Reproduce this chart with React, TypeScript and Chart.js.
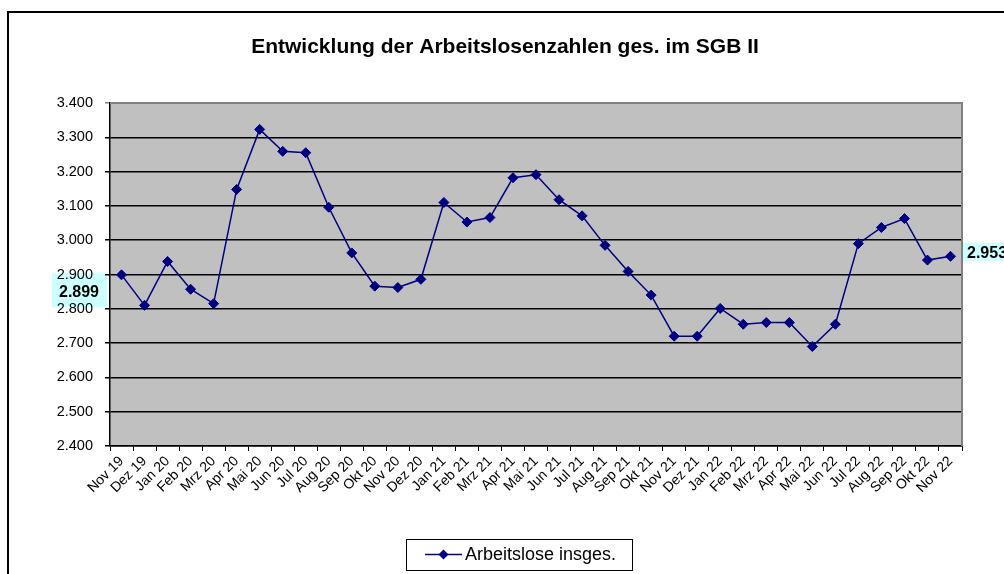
import React, { useEffect, useRef } from "react";
import { Chart, registerables } from "chart.js";

Chart.register(...registerables);

const categories: string[] = [
  "Nov 19", "Dez 19",
  "Jan 20", "Feb 20", "Mrz 20", "Apr 20", "Mai 20", "Jun 20", "Jul 20", "Aug 20", "Sep 20", "Okt 20", "Nov 20", "Dez 20",
  "Jan 21", "Feb 21", "Mrz 21", "Apr 21", "Mai 21", "Jun 21", "Jul 21", "Aug 21", "Sep 21", "Okt 21", "Nov 21", "Dez 21",
  "Jan 22", "Feb 22", "Mrz 22", "Apr 22", "Mai 22", "Jun 22", "Jul 22", "Aug 22", "Sep 22", "Okt 22", "Nov 22",
];

const arbeitslose: number[] = [
  2899, 2810,
  2938, 2857, 2815, 3148, 3323, 3259, 3255, 3096, 2963, 2866, 2862, 2886,
  3110, 3053, 3066, 3182, 3191, 3118, 3071, 2985, 2909, 2840, 2720, 2720,
  2801, 2755, 2760, 2760, 2690, 2755, 2990, 3037, 3063, 2942, 2953,
];

const yMin = 2400;
const yMax = 3400;
const yStep = 100;

const titleText = "Entwicklung der Arbeitslosenzahlen ges. im SGB II";
const seriesName = "Arbeitslose insges.";

const FONT = "'Liberation Sans', Arial, Helvetica, sans-serif";
const NAVY = "#000080";

const fmt = (v: number): string => {
  const s = String(Math.round(v));
  return s.length > 3 ? s.slice(0, -3) + "." + s.slice(-3) : s;
};

const drawDiamond = (ctx: CanvasRenderingContext2D, x: number, y: number, r: number) => {
  ctx.beginPath();
  ctx.moveTo(x, y - r);
  ctx.lineTo(x + r, y);
  ctx.lineTo(x, y + r);
  ctx.lineTo(x - r, y);
  ctx.closePath();
  ctx.fill();
};

const decorPlugin = {
  id: "decor",
  beforeDraw(chart: any) {
    const { ctx, chartArea } = chart;
    ctx.save();
    ctx.fillStyle = "#ffffff";
    ctx.fillRect(0, 0, chart.width, chart.height);
    ctx.fillStyle = "#C0C0C0";
    ctx.fillRect(chartArea.left, chartArea.top, chartArea.right - chartArea.left, chartArea.bottom - chartArea.top);
    // label boxes (behind the tick labels)
    const meta = chart.getDatasetMeta(0);
    const first = meta.data[0];
    const last = meta.data[meta.data.length - 1];
    ctx.fillStyle = "#CCFFFF";
    if (first) ctx.fillRect(52, first.y - 1.5, 55, 34);
    if (last) ctx.fillRect(chartArea.right + 1, last.y - 13.5, 60, 18);
    ctx.restore();
  },
  beforeDatasetsDraw(chart: any) {
    const { ctx, chartArea } = chart;
    ctx.save();
    ctx.strokeStyle = "#808080";
    ctx.lineWidth = 2;
    ctx.beginPath();
    ctx.moveTo(chartArea.left, chartArea.top);
    ctx.lineTo(chartArea.right, chartArea.top);
    ctx.lineTo(chartArea.right, chartArea.bottom);
    ctx.stroke();
    ctx.restore();
  },
  afterDraw(chart: any) {
    const { ctx } = chart;
    ctx.save();
    // outer frame
    ctx.strokeStyle = "#000";
    ctx.lineWidth = 2;
    ctx.strokeRect(8, 12, 1010, 600);

    // title
    ctx.fillStyle = "#000";
    ctx.font = `bold 21px ${FONT}`;
    ctx.textAlign = "center";
    ctx.textBaseline = "middle";
    ctx.fillText(titleText, 505, 47);

    // data labels for first and last points
    const meta = chart.getDatasetMeta(0);
    const first = meta.data[0];
    const last = meta.data[meta.data.length - 1];
    ctx.font = `bold 16px ${FONT}`;
    ctx.fillStyle = "#000";
    if (first) {
      ctx.textAlign = "center";
      ctx.fillText(fmt(arbeitslose[0]), 79, first.y + 17.5);
    }
    if (last) {
      ctx.textAlign = "left";
      ctx.fillText(fmt(arbeitslose[arbeitslose.length - 1]), 967, last.y - 2.5);
    }

    // legend
    ctx.strokeStyle = "#000";
    ctx.lineWidth = 1;
    ctx.strokeRect(406.5, 539.5, 226, 31);
    ctx.strokeStyle = NAVY;
    ctx.lineWidth = 1.5;
    ctx.beginPath();
    ctx.moveTo(425, 554.5);
    ctx.lineTo(462, 554.5);
    ctx.stroke();
    ctx.fillStyle = NAVY;
    drawDiamond(ctx, 443.5, 554.5, 5);
    ctx.fillStyle = "#000";
    ctx.font = `18px ${FONT}`;
    ctx.textAlign = "left";
    ctx.textBaseline = "middle";
    ctx.fillText(seriesName, 465, 555);
    ctx.restore();
  },
};

export default function App() {
  const canvasRef = useRef<HTMLCanvasElement | null>(null);

  useEffect(() => {
    const canvas = canvasRef.current;
    if (!canvas) return;
    const chart = new Chart(canvas, {
      type: "line",
      data: {
        labels: categories,
        datasets: [
          {
            label: seriesName,
            data: arbeitslose,
            borderColor: NAVY,
            backgroundColor: NAVY,
            borderWidth: 1.5,
            pointStyle: "rectRot",
            pointRadius: 5,
            pointHoverRadius: 5,
            pointBackgroundColor: NAVY,
            pointBorderColor: NAVY,
            pointBorderWidth: 1,
            tension: 0,
            fill: false,
          },
        ],
      },
      options: {
        animation: false,
        responsive: false,
        maintainAspectRatio: false,
        events: [],
        layout: { padding: { top: 103, right: 42, left: 0, bottom: 0 } },
        plugins: {
          legend: { display: false },
          title: { display: false },
          tooltip: { enabled: false },
        },
        scales: {
          x: {
            type: "category",
            offset: true,
            afterFit: (scale: any) => {
              scale.height = 128;
            },
            grid: {
              offset: true,
              drawOnChartArea: false,
              drawTicks: true,
              tickLength: 5,
              color: "#000",
              lineWidth: 1,
            },
            border: { color: "#000", width: 1.5 },
            ticks: {
              autoSkip: false,
              minRotation: 45,
              maxRotation: 45,
              padding: 2,
              color: "#000",
              font: { family: FONT, size: 14 },
            },
          },
          y: {
            min: yMin,
            max: yMax,
            afterFit: (scale: any) => {
              scale.width = 110;
            },
            grid: {
              color: (c: any) => (c.tick && c.tick.value === yMax ? "#808080" : "#000"),
              lineWidth: 1.5,
              tickLength: 5,
              drawTicks: true,
            },
            border: { color: "#000", width: 1.5 },
            ticks: {
              stepSize: yStep,
              padding: 12,
              color: "#000",
              font: { family: FONT, size: 14.5 },
              callback: (v: any) => fmt(Number(v)),
            },
          },
        },
      },
      plugins: [decorPlugin],
    });
    return () => chart.destroy();
  }, []);

  return (
    <div style={{ position: "fixed", left: 0, top: 0, width: 1004, height: 574, background: "#fff" }}>
      <canvas ref={canvasRef} width={1004} height={574} style={{ display: "block", width: 1004, height: 574 }} />
    </div>
  );
}
